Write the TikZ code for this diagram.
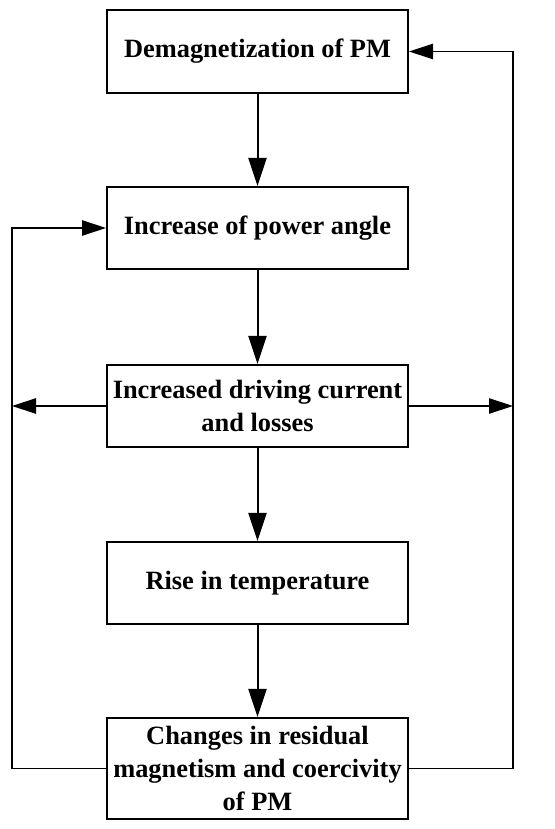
\documentclass[tikz,border=0pt]{standalone}
\usepackage{fontspec}
\setmainfont{Liberation Serif}
\usetikzlibrary{arrows.meta,calc}
\newcommand{\boxfont}{\fontsize{19.8}{24.8}\selectfont\bfseries}

\begin{document}
\begin{tikzpicture}[x=0.75pt,y=0.75pt,
  flowbox/.style={draw,line width=1.5pt,minimum width=225.75pt,inner sep=0pt,align=center,font=\boxfont},
  mainarrow/.style={line width=1.5pt,-{Triangle[length=21pt,width=13.5pt]}},
  loopline/.style={line width=1pt},
  looparrow/.style={line width=1pt,-{Triangle[length=18pt,width=11.5pt]}}]
\useasboundingbox (0,0) rectangle (555,829);
\node[flowbox,minimum height=62.25pt] (demag) at (257.5,777.5) {Demagnetization of PM};
\node[flowbox,minimum height=61.5pt] (angle) at (257.5,601) {Increase of power angle};
\node[flowbox,minimum height=61.5pt] (current) at (257.5,423) {Increased driving current\\and losses};
\node[flowbox,minimum height=61.5pt] (temp) at (257.5,246) {Rise in temperature};
\node[flowbox,minimum height=75.75pt] (change) at (257.5,60.5) {Changes in residual\\magnetism and coercivity\\of PM};
\coordinate (lline) at (12,0);
\coordinate (rline) at (513,0);
% main chain
\draw[mainarrow] (demag) -- (angle);
\draw[mainarrow] (angle) -- (current);
\draw[mainarrow] (current) -- (temp);
\draw[mainarrow] (temp) -- (change);
% side branches
\draw[looparrow] (current.west) -- (current.west -| lline);
\draw[looparrow] (current.east) -- (current.east -| rline);
% feedback loops
\draw[looparrow] (change.west) -- (change.west -| lline) |- (angle.west);
\draw[looparrow] (change.east) -- (change.east -| rline) |- (demag.east);
\end{tikzpicture}
\end{document}
